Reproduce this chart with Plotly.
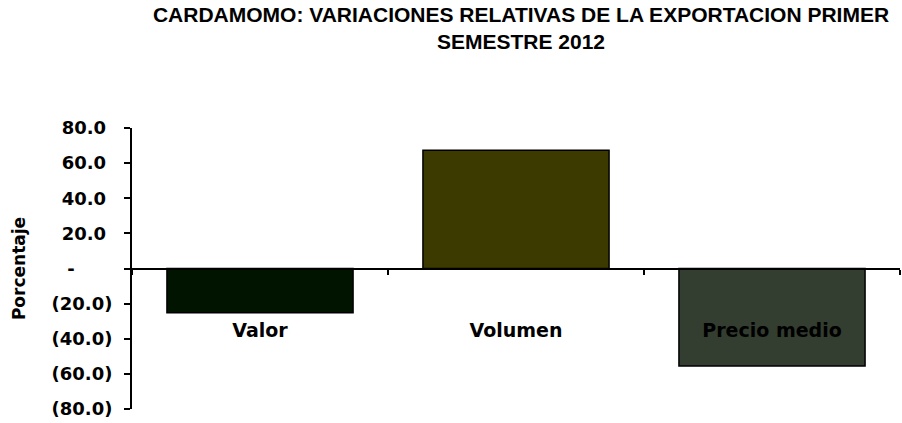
import plotly.graph_objects as go

categories = ["Valor", "Volumen", "Precio medio"]
values = [-25.2, 67.3, -55.5]
bar_colors = ["#001400", "#3d3a00", "#333d30"]
ytick_vals = [80, 60, 40, 20, 0, -20, -40, -60, -80]
ytick_text = ["80.0", "60.0", "40.0", "20.0", "-", "(20.0)", "(40.0)", "(60.0)", "(80.0)"]
title_text = "CARDAMOMO: VARIACIONES RELATIVAS DE LA EXPORTACION PRIMER<br>SEMESTRE 2012"
y_title = "Porcentaje"

W, H = 902, 423
ml, mr, mt, mb = 132, 2, 128, 14

# accounting-style alignment: positive numbers leave room for the closing parenthesis
def pad(t):
    if t.startswith("("):
        return t
    if t == "-":
        return t + "\u2007" * 3
    return t + "\u00a0"

fig = go.Figure()
fig.add_trace(go.Bar(
    x=categories, y=values,
    marker=dict(color=bar_colors, line=dict(color="#000000", width=1.5)),
    hoverinfo="skip",
))

ytick_font = dict(family="DejaVu Sans", size=18, color="#000000", weight="bold")
xtick_font = dict(family="DejaVu Sans", size=19, color="#000000", weight="bold")
ytitle_font = dict(family="DejaVu Sans", size=17, color="#000000", weight="bold")

fig.update_layout(
    width=W, height=H,
    margin=dict(l=ml, r=mr, t=mt, b=mb),
    paper_bgcolor="#ffffff", plot_bgcolor="#ffffff",
    showlegend=False,
    bargap=0.273,
    title=dict(
        text=title_text,
        font=dict(family="Liberation Sans, Arial", size=21, color="#000000", weight="bold"),
        x=521 / W, xanchor="center", xref="container",
        y=1 - 22 / H, yanchor="middle", yref="container",
    ),
    xaxis=dict(
        type="category",
        anchor="free", position=0.5,
        showline=True, linecolor="#000000", linewidth=2,
        ticks="outside", ticklen=5, tickwidth=2, tickcolor="#000000",
        tickson="boundaries",
        showgrid=False, zeroline=False,
        tickfont=xtick_font,
        ticklabelstandoff=45,
    ),
    yaxis=dict(
        range=[-80, 80],
        tickvals=ytick_vals, ticktext=[pad(t) for t in ytick_text],
        showline=True, linecolor="#000000", linewidth=2,
        ticks="outside", ticklen=6, tickwidth=2, tickcolor="#000000",
        showgrid=False, zeroline=False,
        tickfont=ytick_font,
        ticklabelstandoff=8,
        title=dict(text=y_title, font=ytitle_font, standoff=22),
    ),
)

fig.write_html("out.html", config={"displayModeBar": False},
               post_script="document.body.style.margin='0';")
